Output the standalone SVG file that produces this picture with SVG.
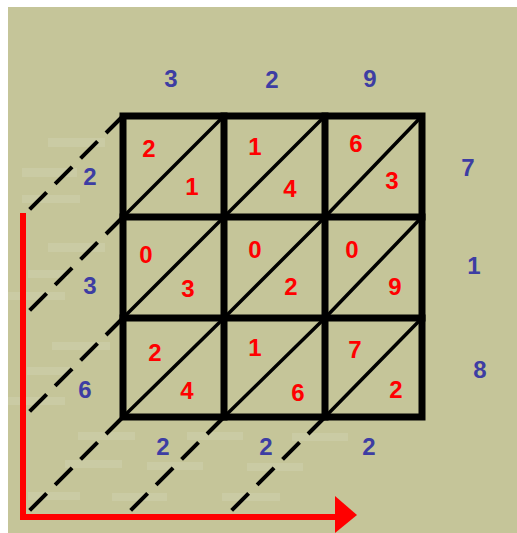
<svg xmlns="http://www.w3.org/2000/svg" width="517" height="533" viewBox="0 0 517 533">
<style>
.bg{fill:#c5c599}
.bar{fill:#cacba4}
.grid{fill:none;stroke:#000;stroke-width:7;stroke-linecap:square}
.diag{stroke:#000;stroke-width:3.5;stroke-linecap:round}
.dash{stroke:#000;stroke-width:4;stroke-dasharray:24 12}
.r{font-family:"Liberation Sans",Arial,sans-serif;font-weight:bold;font-size:24px;fill:#ff0000;text-anchor:middle}
.b{font-family:"Liberation Sans",Arial,sans-serif;font-weight:bold;font-size:24px;fill:#3d3da3;text-anchor:middle}
.axis{stroke:#ff0000;stroke-width:6;fill:none}
</style>
<rect x="0" y="0" width="517" height="533" fill="#ffffff"/>
<rect class="bg" x="8" y="7" width="509" height="526"/>
<g id="faint-bars">
<rect class="bar" x="48" y="138" width="57" height="9"/>
<rect class="bar" x="22" y="168" width="55" height="9"/>
<rect class="bar" x="22" y="195" width="58" height="8"/>
<rect class="bar" x="48" y="243" width="57" height="9"/>
<rect class="bar" x="28" y="270" width="40" height="8"/>
<rect class="bar" x="8" y="292" width="57" height="8"/>
<rect class="bar" x="52" y="342" width="58" height="8"/>
<rect class="bar" x="27" y="367" width="45" height="8"/>
<rect class="bar" x="8" y="397" width="57" height="8"/>
<rect class="bar" x="78" y="432" width="57" height="8"/>
<rect class="bar" x="65" y="460" width="57" height="8"/>
<rect class="bar" x="28" y="492" width="52" height="8"/>
<rect class="bar" x="187" y="432" width="56" height="8"/>
<rect class="bar" x="147" y="462" width="56" height="8"/>
<rect class="bar" x="112" y="493" width="55" height="8"/>
<rect class="bar" x="292" y="433" width="56" height="8"/>
<rect class="bar" x="247" y="463" width="56" height="8"/>
<rect class="bar" x="222" y="493" width="58" height="8"/>
</g>
<g id="connectors">
<line class="dash" x1="123" y1="116" x2="25" y2="214"/>
<line class="dash" x1="123" y1="217" x2="25" y2="315"/>
<line class="dash" x1="123" y1="318" x2="25" y2="416"/>
<line class="dash" x1="123" y1="417" x2="25" y2="515"/>
<line class="dash" x1="224" y1="417" x2="126" y2="515"/>
<line class="dash" x1="325" y1="417" x2="227" y2="515"/>
</g>
<g id="axes">
<polyline class="axis" points="23,213 23,517 337,517"/>
<polygon points="335,496 357,515 335,533" fill="#ff0000"/>
</g>
<g id="grid">
<rect class="grid" x="123" y="116" width="299" height="301"/>
<line class="grid" x1="224" y1="116" x2="224" y2="417"/>
<line class="grid" x1="325" y1="116" x2="325" y2="417"/>
<line class="grid" x1="123" y1="217" x2="422" y2="217"/>
<line class="grid" x1="123" y1="318" x2="422" y2="318"/>
<line class="diag" x1="123" y1="217" x2="224" y2="116"/>
<line class="diag" x1="224" y1="217" x2="325" y2="116"/>
<line class="diag" x1="325" y1="217" x2="422" y2="116"/>
<line class="diag" x1="123" y1="318" x2="224" y2="217"/>
<line class="diag" x1="224" y1="318" x2="325" y2="217"/>
<line class="diag" x1="325" y1="318" x2="422" y2="217"/>
<line class="diag" x1="123" y1="417" x2="224" y2="318"/>
<line class="diag" x1="224" y1="417" x2="325" y2="318"/>
<line class="diag" x1="325" y1="417" x2="422" y2="318"/>
</g>
<g id="cells">
<text class="r" x="149" y="157">2</text><text class="r" x="192" y="195">1</text>
<text class="r" x="255" y="155">1</text><text class="r" x="290" y="197">4</text>
<text class="r" x="356" y="152">6</text><text class="r" x="392" y="189">3</text>
<text class="r" x="146" y="263">0</text><text class="r" x="188" y="297">3</text>
<text class="r" x="255" y="258">0</text><text class="r" x="291" y="295">2</text>
<text class="r" x="352" y="258">0</text><text class="r" x="395" y="295">9</text>
<text class="r" x="155" y="361">2</text><text class="r" x="187" y="399">4</text>
<text class="r" x="255" y="356">1</text><text class="r" x="298" y="401">6</text>
<text class="r" x="355" y="358">7</text><text class="r" x="396" y="398">2</text>
</g>
<g id="labels">
<text class="b" x="171" y="87">3</text>
<text class="b" x="272" y="88">2</text>
<text class="b" x="370" y="87">9</text>
<text class="b" x="468" y="176">7</text>
<text class="b" x="474" y="274">1</text>
<text class="b" x="480" y="378">8</text>
<text class="b" x="90" y="185">2</text>
<text class="b" x="90" y="294">3</text>
<text class="b" x="85" y="398">6</text>
<text class="b" x="163" y="455">2</text>
<text class="b" x="266" y="455">2</text>
<text class="b" x="369" y="455">2</text>
</g>
</svg>
